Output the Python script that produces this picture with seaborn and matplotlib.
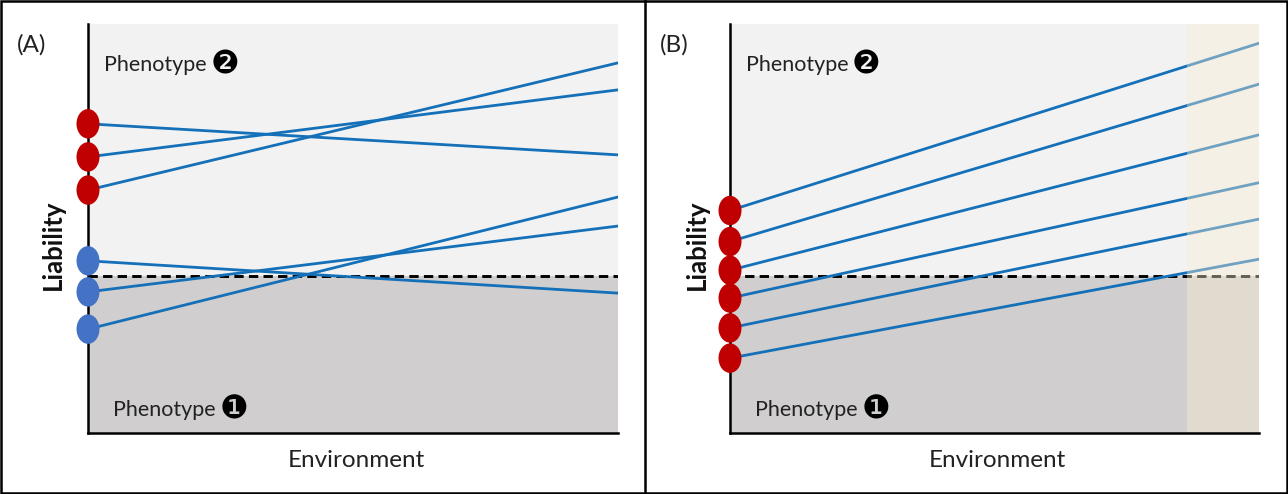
import numpy as np
import pandas as pd
import matplotlib
matplotlib.use("Agg")
import matplotlib.pyplot as plt
from matplotlib.path import Path
from matplotlib.transforms import Affine2D
from matplotlib.patches import Rectangle
from matplotlib.lines import Line2D
import seaborn as sns

# ---------------- data (liability units, 0 = x-axis, 100 = top) ----------------
panel_labels = ["(A)", "(B)"]
x_label = "Environment"
y_label = "Liability"
pheno_text = "Phenotype"
pheno_high = "\u2777"   # ❷
pheno_low = "\u2776"    # ❶

threshold_a = 38.4
threshold_b = 38.4

# Panel A: reaction norms (start at low environment, end at high environment)
a_start_red = [75.6, 67.5, 59.4]
a_end_red = [68.0, 83.9, 90.5]
a_start_blue = [42.1, 34.5, 25.4]
a_end_blue = [34.2, 50.6, 57.7]

# Panel B
b_start = [54.4, 46.8, 39.8, 33.0, 25.7, 18.3]
b_end = [95.3, 85.3, 72.9, 61.2, 52.3, 42.5]
b_novel_env_start = 0.864   # start of shaded novel environment

env_low, env_high = 0.0, 1.0

# ---------------- style ----------------
sns.set_theme(style="white")
plt.rcParams["font.family"] = ["Lato", "DejaVu Sans"]

LINE_BLUE = "#1470b8"
RED = "#c00000"
BLUE_DOT = "#4472c4"
LIGHT = "#f2f2f2"
DARK = "#d0cece"

W, H = 1288, 494
fig = plt.figure(figsize=(W / 100, H / 100), dpi=100)
fig.patch.set_facecolor("white")

ellipse = Path.unit_circle().transformed(Affine2D().scale(0.78, 1.0))


def px(x, y):
    return x / W, 1 - y / H


def make_axes(left_px, right_px):
    x0, y0 = px(left_px, 433)
    x1, y1 = px(right_px, 24)
    ax = fig.add_axes([x0, y0, x1 - x0, y1 - y0])
    ax.set_xlim(env_low, env_high)
    ax.set_ylim(0, 100)
    ax.set_facecolor("white")
    for s in ["top", "right"]:
        ax.spines[s].set_visible(False)
    for s in ["left", "bottom"]:
        ax.spines[s].set_color("black")
        ax.spines[s].set_linewidth(1.8)
        ax.spines[s].set_zorder(3)
    ax.set_xticks([])
    ax.set_yticks([])
    return ax


def shade(ax, thr):
    ax.axhspan(thr, 100, color=LIGHT, zorder=0, lw=0)
    ax.axhspan(0, thr, color=DARK, zorder=0, lw=0)
    ax.axhline(thr, color="black", lw=2.1, ls=(0, (3.2, 1.8)), zorder=2)


def draw_lines(ax, starts, ends):
    rows = []
    for i, (s, e) in enumerate(zip(starts, ends)):
        rows.append({"env": env_low, "liab": s, "id": i})
        rows.append({"env": env_high, "liab": e, "id": i})
    df = pd.DataFrame(rows)
    sns.lineplot(data=df, x="env", y="liab", units="id", estimator=None,
                 color=LINE_BLUE, lw=2.0, ax=ax, zorder=2.2, legend=False)


def draw_dots(ax, values, color):
    df = pd.DataFrame({"env": [env_low] * len(values), "liab": values})
    sns.scatterplot(data=df, x="env", y="liab", marker=ellipse, s=450,
                    color=color, edgecolor="none", linewidth=0, ax=ax,
                    zorder=4, clip_on=False, legend=False)


def texts(ax, label_x):
    ax.text(0.030, 0.90, pheno_text, transform=ax.transAxes, ha="left",
            va="center", fontsize=15.5, color="#222222")
    ax.text(0.258, 0.90, pheno_high, transform=ax.transAxes, ha="center",
            va="center", fontsize=23, color="black", family="DejaVu Sans")
    ax.text(0.048, 0.056, pheno_text, transform=ax.transAxes, ha="left",
            va="center", fontsize=15.5, color="#222222")
    ax.text(0.276, 0.056, pheno_low, transform=ax.transAxes, ha="center",
            va="center", fontsize=23, color="black", family="DejaVu Sans")
    ax.text(0.506, -0.068, x_label, transform=ax.transAxes, ha="center",
            va="center", fontsize=17.5, color="#222222")
    ax.text(label_x, 0.46, y_label, transform=ax.transAxes, ha="center",
            va="center", fontsize=18.5, fontweight="bold", rotation=90,
            color="#111111")


# ---------------- Panel A ----------------
axA = make_axes(88, 618)
shade(axA, threshold_a)
draw_lines(axA, a_start_red, a_end_red)
draw_lines(axA, a_start_blue, a_end_blue)
draw_dots(axA, a_start_red, RED)
draw_dots(axA, a_start_blue, BLUE_DOT)
texts(axA, -0.066)
axA.set_xlabel("")
axA.set_ylabel("")

# ---------------- Panel B ----------------
axB = make_axes(730, 1259)
shade(axB, threshold_b)
draw_lines(axB, b_start, b_end)
axB.axvspan(b_novel_env_start, env_high, color=(250 / 255, 237 / 255, 210 / 255),
            alpha=0.40, lw=0, zorder=2.6)
draw_dots(axB, b_start, RED)
texts(axB, -0.0625)
axB.set_xlabel("")
axB.set_ylabel("")

# panel letters
fig.text(*px(17, 45), panel_labels[0], ha="left", va="center", fontsize=17.5,
         color="#222222")
fig.text(*px(660, 45), panel_labels[1], ha="left", va="center", fontsize=17.5,
         color="#222222")

# frames
fig.add_artist(Rectangle((1.2 / W, 1.2 / H), (W - 2.4) / W, (H - 2.4) / H,
                         transform=fig.transFigure, fill=False, ec="black",
                         lw=1.8))
fig.add_artist(Line2D([644.5 / W, 644.5 / W], [0, 1], transform=fig.transFigure,
                      color="black", lw=1.8))

fig.savefig("out.png", dpi=100, facecolor="white")
